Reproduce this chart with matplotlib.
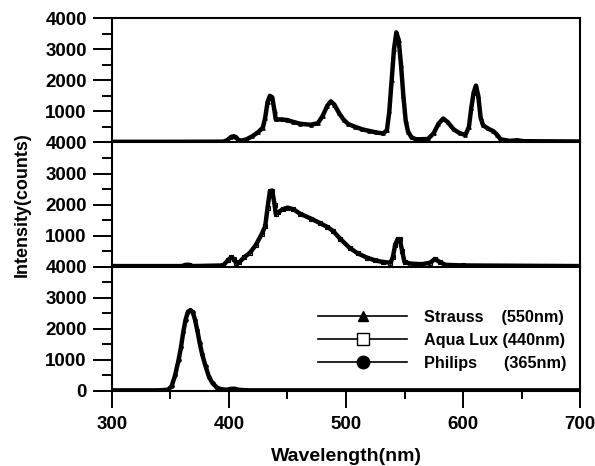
import matplotlib
matplotlib.use("Agg")
import matplotlib.pyplot as plt
from matplotlib.lines import Line2D
from matplotlib.ticker import MultipleLocator, FuncFormatter

plt.rcParams["font.family"] = ["Liberation Sans", "DejaVu Sans"]
plt.rcParams["font.weight"] = "bold"
plt.rcParams["axes.labelweight"] = "bold"

# ---- spectra (wavelength nm, counts) ----
strauss_wl = [300, 350, 395, 398, 402, 404, 406, 408, 411, 415, 420, 425, 429,
              431, 433, 435, 437, 439, 440, 445, 450, 455, 461, 470, 476, 480,
              484, 487, 490, 494, 498, 502, 508, 514, 520, 526, 532, 535, 537,
              539, 541, 543, 545, 547, 549, 551, 553, 556, 560, 570, 575, 579,
              583, 587, 592, 597, 602, 605, 607, 609, 611, 613, 615, 617, 621,
              626, 629, 632, 640, 646, 652, 700]
strauss_i = [20, 20, 25, 60, 180, 200, 170, 80, 60, 100, 200, 330, 480,
             800, 1300, 1500, 1450, 1000, 740, 740, 720, 660, 600, 570, 620, 850,
             1180, 1320, 1220, 950, 730, 590, 500, 420, 370, 320, 290, 400, 1000,
             2000, 3000, 3540, 3300, 2500, 1500, 700, 350, 160, 100, 110, 300, 600,
             770, 650, 420, 300, 240, 500, 1100, 1600, 1830, 1500, 800, 560, 450,
             360, 250, 100, 50, 70, 40, 30]

aqua_wl = [300, 360, 363, 366, 369, 395, 399, 402, 404, 406, 409, 413, 418,
           423, 428, 431, 433, 435, 437, 439, 440, 442, 446, 450, 455, 461,
           470, 478, 484, 489, 495, 503, 510, 518, 525, 532, 538, 540, 542,
           544, 546, 548, 550, 555, 565, 572, 576, 580, 585, 600, 700]
aqua_i = [20, 20, 60, 60, 20, 40, 200, 310, 250, 130, 150, 300, 450,
          700, 1050, 1300, 1900, 2430, 2450, 2000, 1700, 1750, 1850, 1900, 1850, 1700,
          1550, 1400, 1280, 1150, 900, 610, 430, 290, 200, 150, 130, 300, 700,
          880, 880, 500, 150, 100, 80, 130, 250, 150, 60, 40, 20]

philips_wl = [300, 340, 348, 351, 354, 357, 359, 361, 363, 365, 367, 369, 371,
              373, 375, 377, 380, 383, 386, 390, 394, 398, 402, 405, 408, 415, 700]
philips_i = [20, 20, 40, 150, 500, 1000, 1400, 1900, 2300, 2550, 2600, 2550, 2300,
             1950, 1550, 1200, 800, 450, 250, 100, 50, 40, 70, 70, 40, 20, 20]

labels = ["Strauss    (550nm)", "Aqua Lux (440nm)", "Philips      (365nm)"]

fig = plt.figure(figsize=(5.95, 4.66), dpi=100)
gs = fig.add_gridspec(3, 1, hspace=0, left=0.188, right=0.975,
                      bottom=0.161, top=0.961)
axes = [fig.add_subplot(gs[i]) for i in range(3)]

series = [(strauss_wl, strauss_i, "^", "k"),
          (aqua_wl, aqua_i, "s", "none"),
          (philips_wl, philips_i, "o", "k")]

for ax, (wl, inten, mk, fc) in zip(axes, series):
    ax.plot(wl, inten, color="k", lw=3.2, marker=mk, ms=2.5,
            markerfacecolor=fc, markeredgecolor="k", mew=0.8, zorder=3)
    ax.set_xlim(300, 700)
    ax.set_ylim(0, 4000)
    ax.yaxis.set_major_locator(MultipleLocator(1000))
    ax.yaxis.set_minor_locator(MultipleLocator(500))
    ax.tick_params(axis="y", which="major", direction="out", length=14,
                   width=1.4, labelsize=13.5, pad=4)
    ax.tick_params(axis="y", which="minor", direction="out", length=7, width=1.4)
    for sp in ax.spines.values():
        sp.set_linewidth(1.5)

for ax in axes[:2]:
    ax.yaxis.set_major_formatter(FuncFormatter(lambda v, p: "" if v == 0 else f"{v:.0f}"))
    ax.tick_params(axis="x", which="both", bottom=False, labelbottom=False)
    ax.spines["bottom"].set_visible(False)

axes[2].xaxis.set_major_locator(MultipleLocator(100))
axes[2].xaxis.set_minor_locator(MultipleLocator(50))
axes[2].tick_params(axis="x", which="major", direction="out", length=12,
                    width=1.4, labelsize=13.5, pad=6)
axes[2].tick_params(axis="x", which="minor", direction="out", length=6, width=1.4)

axes[2].set_xlabel("Wavelength(nm)", fontsize=14, labelpad=11)
fig.text(0.037, 0.56, "Intensity(counts)", rotation=90, fontsize=13,
         fontweight="bold", ha="center", va="center")

handles = [
    Line2D([0], [0], color="k", lw=1.2, marker="^", ms=7, markerfacecolor="k"),
    Line2D([0], [0], color="k", lw=1.2, marker="s", ms=9, markerfacecolor="white",
           markeredgewidth=1.0),
    Line2D([0], [0], color="k", lw=1.2, marker="o", ms=9, markerfacecolor="k"),
]
axes[2].legend(handles, labels, loc="upper left", bbox_to_anchor=(0.44, 0.655),
               frameon=False, fontsize=11.7, handlelength=5.5, handletextpad=1.0,
               labelspacing=0.5, borderpad=0, borderaxespad=0, numpoints=1)

fig.savefig("out.png", dpi=100)
